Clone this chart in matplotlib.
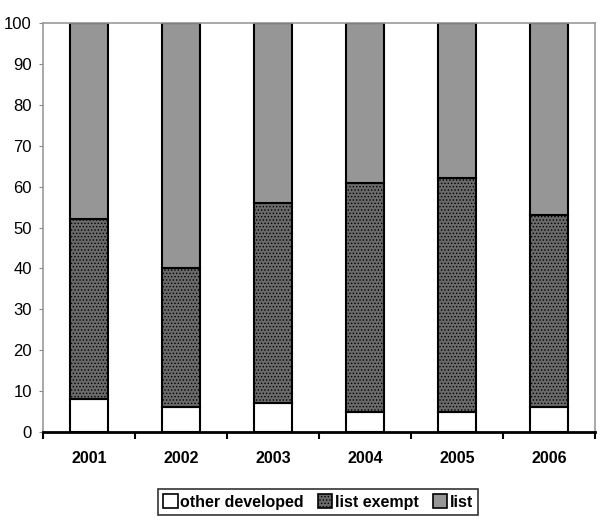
import matplotlib
matplotlib.use("Agg")
import matplotlib.pyplot as plt
import numpy as np
from matplotlib.patches import Patch

years = ["2001", "2002", "2003", "2004", "2005", "2006"]
other_developed = [8, 6, 7, 5, 5, 6]
list_exempt = [44, 34, 49, 56, 57, 47]
list_vals = [48, 60, 44, 39, 38, 47]

plt.rcParams['font.family'] = ['Liberation Sans', 'DejaVu Sans']
plt.rcParams['hatch.linewidth'] = 0.6
plt.rcParams['hatch.color'] = '#2a2a2a'

fig = plt.figure(figsize=(6.0, 5.22), dpi=100)
ax = fig.add_axes([43/600, 1-432/522, (595-43)/600, (432-23)/522])

x = np.arange(len(years))
w = 0.41
ed = dict(edgecolor='black', linewidth=1.5)
ax.bar(x, other_developed, w, color='white', **ed)
ax.bar(x, list_exempt, w, bottom=other_developed, color='#6a6a6a', hatch='.....', **ed)
bottom2 = np.array(other_developed) + np.array(list_exempt)
ax.bar(x, list_vals, w, bottom=bottom2, color='#969696', **ed)

ax.set_xlim(-0.5, len(years) - 0.5)
ax.set_ylim(0, 100)
ax.set_yticks(range(0, 101, 10))
ax.set_xticks(x)
ax.set_xticklabels(years, fontweight='bold', fontsize=11.5)
ax.set_xticks(np.arange(-0.5, len(years), 1), minor=True)
ax.tick_params(axis='x', which='major', length=0, pad=14)
ax.tick_params(axis='x', which='minor', length=5, width=1.5, color='black', direction='out')
ax.tick_params(axis='y', length=3, color='#888888', labelsize=12, pad=5)

for s in ['left', 'top', 'right']:
    ax.spines[s].set_color('#999999')
    ax.spines[s].set_linewidth(1.2)
ax.spines['bottom'].set_color('black')
ax.spines['bottom'].set_linewidth(2)

handles = [Patch(facecolor='white', edgecolor='black', linewidth=1.2),
           Patch(facecolor='#6a6a6a', edgecolor='black', hatch='.....', linewidth=1.2),
           Patch(facecolor='#969696', edgecolor='black', linewidth=1.2)]
leg = fig.legend(handles, ['other developed', 'list exempt', 'list'],
                 loc='center', bbox_to_anchor=(318/600, 1-502/522), ncol=3,
                 prop={'weight': 'bold', 'size': 11.5}, frameon=True, fancybox=False,
                 edgecolor='black', handlelength=0.9, handleheight=0.9,
                 handletextpad=0.15, columnspacing=0.9, borderpad=0.35)
leg.get_frame().set_linewidth(1.2)

fig.savefig("out.png", dpi=100, facecolor='white')
